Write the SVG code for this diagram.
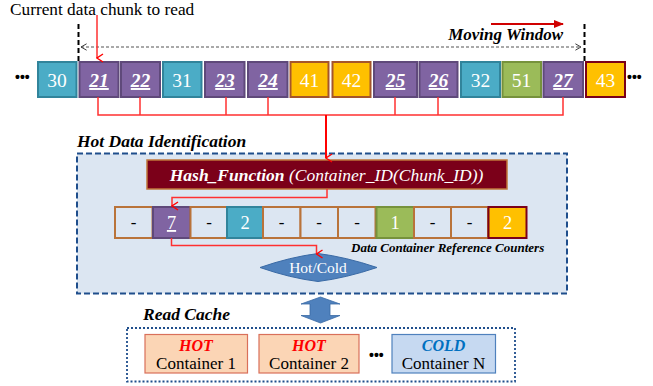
<svg xmlns="http://www.w3.org/2000/svg" width="653" height="386" viewBox="0 0 653 386">
  <defs>
    <marker id="redV" viewBox="0 0 10 10" refX="5" refY="9" markerWidth="10" markerHeight="10" markerUnits="userSpaceOnUse" orient="auto-start-reverse">
      <path d="M1,3 L5,9 L9,3" fill="none" stroke="#ff0000" stroke-width="1.4"/>
    </marker>
    <marker id="redFill" viewBox="0 0 10 10" refX="9" refY="5" markerWidth="12" markerHeight="10" markerUnits="userSpaceOnUse" orient="auto">
      <path d="M0,1 L10,5 L0,9 Z" fill="#d00000"/>
    </marker>
    <marker id="grayOpen" viewBox="0 0 10 10" refX="9" refY="5" markerWidth="8" markerHeight="8" markerUnits="userSpaceOnUse" orient="auto-start-reverse">
      <path d="M2,1 L9,5 L2,9" fill="none" stroke="#333" stroke-width="1.2"/>
    </marker>
    <style>
      text { font-family: 'Liberation Serif', 'DejaVu Serif', 'Noto Serif', serif; }
      .chunk { stroke-width: 2; }
      .teal { fill: #4bacc6; stroke: #31849b; }
      .purple { fill: #8064a2; stroke: #5f497a; }
      .yellow { fill: #ffc000; stroke: #a5552a; }
      .green { fill: #9bbb59; stroke: #76923c; }
      .num { font-size: 19.5px; fill: #fff; text-anchor: middle; }
      .id { font-weight: bold; font-style: italic; text-decoration: underline; }
      .cell { fill: #dce6f2; stroke: #b9733a; stroke-width: 2; }
      .dash { font-size: 17px; fill: #000; text-anchor: middle; }
      .cnum { font-size: 18.5px; fill: #fff; text-anchor: middle; }
      .label { font-weight: bold; font-style: italic; fill: #000; }
      .wire { fill: none; stroke: #ff3030; stroke-width: 1.5; }
      .cont { font-size: 17px; fill: #000; text-anchor: middle; }
      .tag { font-size: 16px; font-weight: bold; font-style: italic; text-anchor: middle; }
      .dots { font-family: 'Liberation Sans', 'DejaVu Sans', sans-serif; font-weight: bold; font-size: 14px; fill: #000; }
    </style>
  </defs>

  <rect width="653" height="386" fill="#fff"/>

  <!-- caption above the stream -->
  <text x="10" y="15" font-size="17.3" fill="#000">Current data chunk to read</text>

  <!-- moving window -->
  <g id="moving-window">
    <line x1="78.5" y1="24" x2="78.5" y2="62" stroke="#000" stroke-width="2" stroke-dasharray="5,3"/>
    <line x1="584.5" y1="24" x2="584.5" y2="62" stroke="#000" stroke-width="2" stroke-dasharray="5,3"/>
    <line x1="81" y1="47" x2="581" y2="47" stroke="#555" stroke-width="1.2" stroke-dasharray="3,2" marker-start="url(#grayOpen)" marker-end="url(#grayOpen)"/>
    <text class="label" x="563" y="40" font-size="17" text-anchor="end">Moving Window</text>
    <line x1="491" y1="24" x2="563" y2="24" stroke="#d00000" stroke-width="2" marker-end="url(#redFill)"/>
  </g>

  <!-- chunk stream -->
  <g id="chunks">
    <text class="dots" x="15" y="82">•••</text>
    <g id="c30"><rect class="chunk teal" x="38" y="62" width="38.5" height="35"/><text class="num" x="57" y="87">30</text></g>
    <g id="c21"><rect class="chunk purple" x="79.5" y="62" width="39" height="35"/><text class="num id" x="99" y="87">21</text></g>
    <g id="c22"><rect class="chunk purple" x="121" y="62" width="39" height="35"/><text class="num id" x="140.5" y="87">22</text></g>
    <g id="c31"><rect class="chunk teal" x="163" y="62" width="38.5" height="35"/><text class="num" x="182" y="87">31</text></g>
    <g id="c23"><rect class="chunk purple" x="205" y="62" width="39.5" height="35"/><text class="num id" x="225" y="87">23</text></g>
    <g id="c24"><rect class="chunk purple" x="248" y="62" width="39.5" height="35"/><text class="num id" x="268" y="87">24</text></g>
    <g id="c41"><rect class="chunk yellow" x="290.5" y="62" width="38" height="35"/><text class="num" x="309.5" y="87">41</text></g>
    <g id="c42"><rect class="chunk yellow" x="332.5" y="62" width="38" height="35"/><text class="num" x="351.5" y="87">42</text></g>
    <g id="c25"><rect class="chunk purple" x="374" y="62" width="43" height="35"/><text class="num id" x="395.5" y="87">25</text></g>
    <g id="c26"><rect class="chunk purple" x="419.5" y="62" width="38" height="35"/><text class="num id" x="438.5" y="87">26</text></g>
    <g id="c32"><rect class="chunk teal" x="461" y="62" width="39" height="35"/><text class="num" x="480.5" y="87">32</text></g>
    <g id="c51"><rect class="chunk green" x="502.5" y="62" width="38.5" height="35"/><text class="num" x="521.5" y="87">51</text></g>
    <g id="c27"><rect class="chunk purple" x="543.5" y="62" width="39.5" height="35"/><text class="num id" x="563" y="87">27</text></g>
    <g id="c43"><rect class="chunk" x="586" y="62" width="39" height="35" fill="#ffc000" stroke="#7b0019" stroke-width="2.2"/><text class="num" x="605.5" y="87">43</text></g>
    <text class="dots" x="627" y="82">•••</text>
  </g>

  <!-- hot data identification panel -->
  <g id="hot-data-identification">
    <text class="label" x="77" y="147" font-size="17.5">Hot Data Identification</text>
    <rect x="77" y="153.5" width="490" height="140" fill="#dce6f2" stroke="#1f4e8c" stroke-width="2" stroke-dasharray="6,3"/>
  </g>

  <g id="hash-function">
    <rect x="147" y="160" width="360" height="29" fill="#7b0019" stroke="#c0763a" stroke-width="1.5"/>
    <text x="326.5" y="180.5" font-size="17.5" fill="#fff" text-anchor="middle" font-style="italic"><tspan font-weight="bold">Hash_Function</tspan> (Container_ID(Chunk_ID))</text>
  </g>

  <!-- container reference counters -->
  <g id="counters">
    <g id="k0"><rect class="cell" x="115" y="207" width="37.5" height="31"/><text class="dash" x="133.5" y="228">-</text></g>
    <g id="k1"><rect x="153" y="207" width="37.5" height="31" fill="#8064a2" stroke="#5f497a" stroke-width="2"/><text class="cnum" x="171.5" y="229" text-decoration="underline">7</text></g>
    <g id="k2"><rect class="cell" x="190.5" y="207" width="37.5" height="31"/><text class="dash" x="209" y="228">-</text></g>
    <g id="k3"><rect x="227" y="207" width="36" height="31" fill="#4bacc6" stroke="#31849b" stroke-width="2"/><text class="cnum" x="245" y="229">2</text></g>
    <g id="k4"><rect class="cell" x="263" y="207" width="37.5" height="31"/><text class="dash" x="281.5" y="228">-</text></g>
    <g id="k5"><rect class="cell" x="300.5" y="207" width="37.5" height="31"/><text class="dash" x="319" y="228">-</text></g>
    <g id="k6"><rect class="cell" x="338" y="207" width="37.5" height="31"/><text class="dash" x="357" y="228">-</text></g>
    <g id="k7"><rect x="376.5" y="207" width="37.5" height="31" fill="#9bbb59" stroke="#76923c" stroke-width="2"/><text class="cnum" x="395" y="229">1</text></g>
    <g id="k8"><rect class="cell" x="414" y="207" width="37" height="31"/><text class="dash" x="432.5" y="228">-</text></g>
    <g id="k9"><rect class="cell" x="451" y="207" width="37" height="31"/><text class="dash" x="469.5" y="228">-</text></g>
    <g id="k10"><rect x="488.5" y="207" width="38" height="31" fill="#ffc000" stroke="#7b0019" stroke-width="2"/><text class="cnum" x="507.5" y="229">2</text></g>
    <text class="label" x="351" y="252" font-size="13">Data Container Reference Counters</text>
  </g>

  <g id="hot-cold">
    <path d="M260,267.5 Q290,257 318,253.5 Q346,257 377,267.5 Q346,278 318,281.5 Q290,278 260,267.5 Z" fill="#4f81bd" stroke="#3a6aa5" stroke-width="1"/>
    <text x="318" y="273" font-size="15.5" fill="#fff" text-anchor="middle">Hot/Cold</text>
  </g>

  <!-- connectors -->
  <g id="connectors">
    <line x1="97" y1="15" x2="97" y2="58" class="wire" marker-end="url(#redV)"/>
    <polyline class="wire" points="98,97 98,115 563,115 563,97"/>
    <line class="wire" x1="140" y1="97" x2="140" y2="115"/>
    <line class="wire" x1="226" y1="97" x2="226" y2="115"/>
    <line class="wire" x1="268" y1="97" x2="268" y2="115"/>
    <line class="wire" x1="395" y1="97" x2="395" y2="115"/>
    <line class="wire" x1="438" y1="97" x2="438" y2="115"/>
    <line x1="326" y1="115" x2="326" y2="158" stroke="#ff0000" stroke-width="2" marker-end="url(#redV)"/>
    <polyline class="wire" points="327,189 327,197.5 172,197.5 172,206" marker-end="url(#redV)"/>
    <polyline class="wire" points="171.5,238 171.5,245.5 316.5,245.5 316.5,254" marker-end="url(#redV)"/>
    <path d="M320.5,297 L340,304 L330,304 L330,315.5 L340,315.5 L320.5,323 L301,315.5 L310,315.5 L310,304 L301,304 Z" fill="#4f81bd" stroke="#3a6aa5" stroke-width="0.8"/>
  </g>

  <!-- read cache -->
  <g id="read-cache">
    <text class="label" x="143" y="320" font-size="17.5">Read Cache</text>
    <rect x="127" y="328" width="388" height="53.5" fill="#fff" stroke="#1f4e8c" stroke-width="1.8" stroke-dasharray="2,2"/>
  </g>

  <g id="container-1">
    <rect x="145" y="334.5" width="102.5" height="38.5" fill="#fbd5b5" stroke="#d9705a" stroke-width="1.2"/>
    <text class="tag" x="196" y="351" fill="#ff0000">HOT</text>
    <text class="cont" x="196" y="368.5">Container 1</text>
  </g>
  <g id="container-2">
    <rect x="259" y="334.5" width="100" height="38.5" fill="#fbd5b5" stroke="#d9705a" stroke-width="1.2"/>
    <text class="tag" x="309" y="351" fill="#ff0000">HOT</text>
    <text class="cont" x="309" y="368.5">Container 2</text>
  </g>
  <text class="dots" x="369" y="360">•••</text>
  <g id="container-n">
    <rect x="392" y="334.5" width="103.5" height="38.5" fill="#c6d9f1" stroke="#4f81bd" stroke-width="1.2"/>
    <text class="tag" x="443.5" y="351" fill="#0070c0">COLD</text>
    <text class="cont" x="443.5" y="368.5">Container N</text>
  </g>
</svg>
